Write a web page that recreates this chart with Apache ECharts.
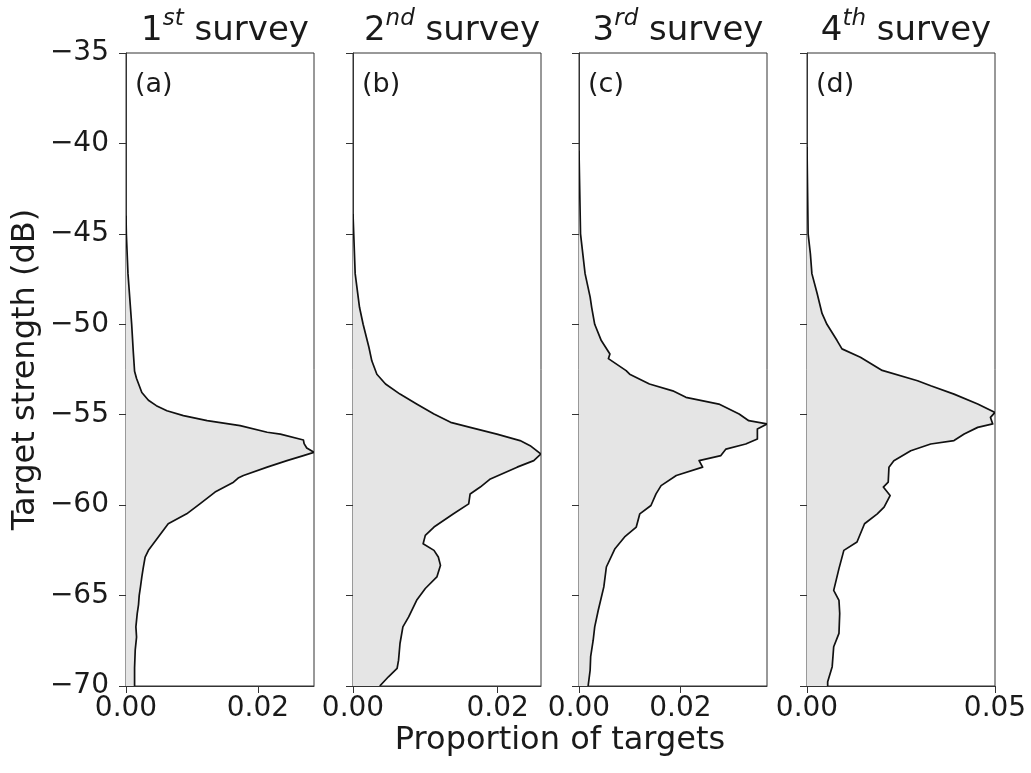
<!DOCTYPE html>
<html>
<head>
<meta charset="utf-8">
<script src="https://cdn.jsdelivr.net/npm/echarts@6/dist/echarts.min.js"></script>
<style>
  html, body { margin: 0; padding: 0; background: #fff; }
  #chart { width: 1031px; height: 773px; }
</style>
</head>
<body>
<div id="chart"></div>
<script>
// Target-strength distributions, one per survey: [TS (dB), proportion of targets]
const survey1 = [
  [-44.0, 0], [-45.0, 0.00005], [-47.2, 0.0003], [-50.0, 0.00086], [-51.5, 0.0011],
  [-52.6, 0.0013], [-53.0, 0.0016], [-53.77, 0.0024], [-54.2, 0.0034], [-54.5, 0.0046],
  [-54.78, 0.0062], [-55.05, 0.0087], [-55.33, 0.0123], [-55.6, 0.0173], [-55.97, 0.0214],
  [-56.07, 0.0234], [-56.4, 0.0269], [-56.6, 0.027], [-56.84, 0.0274], [-57.08, 0.0285],
  [-57.26, 0.0269], [-57.54, 0.0244], [-57.9, 0.0214], [-58.36, 0.0178], [-58.5, 0.017],
  [-58.73, 0.0163], [-59.28, 0.0135], [-59.93, 0.0112], [-60.48, 0.0092], [-61.03, 0.0064],
  [-61.76, 0.0049], [-62.5, 0.0034], [-62.87, 0.0029], [-63.5, 0.0026], [-63.97, 0.0024],
  [-64.5, 0.0022], [-65.0, 0.002], [-65.5, 0.0019], [-66.0, 0.0017], [-66.73, 0.0015],
  [-67.3, 0.0016], [-68.0, 0.0014], [-69.0, 0.0013], [-70.0, 0.0013]
];
const survey2 = [
  [-43.9, 0], [-45.0, 0.0001], [-47.2, 0.0003], [-49.06, 0.0009], [-50.0, 0.0014],
  [-51.27, 0.0022], [-52.02, 0.0026], [-52.76, 0.0033], [-53.3, 0.0045], [-53.86, 0.0065],
  [-54.41, 0.0088], [-54.96, 0.0112], [-55.42, 0.0135], [-55.7, 0.0162], [-56.07, 0.0199],
  [-56.43, 0.0231], [-56.71, 0.0245], [-57.17, 0.026], [-57.54, 0.025], [-57.9, 0.0227],
  [-58.55, 0.019], [-59.0, 0.0176], [-59.38, 0.0162], [-59.93, 0.016], [-60.48, 0.0139],
  [-61.21, 0.0112], [-61.67, 0.01], [-62.13, 0.0097], [-62.5, 0.0112], [-62.87, 0.0118],
  [-63.33, 0.0121], [-63.97, 0.0116], [-64.61, 0.01], [-65.26, 0.0088], [-66.18, 0.0077],
  [-66.73, 0.0069], [-67.65, 0.0065], [-68.57, 0.0063], [-69.03, 0.0061], [-69.49, 0.0049],
  [-70.0, 0.0037]
];
const survey3 = [
  [-40.4, 0], [-45.0, 0.0003], [-47.2, 0.0012], [-48.5, 0.0022], [-49.06, 0.0025],
  [-50.0, 0.0031], [-50.9, 0.0044], [-51.64, 0.0061], [-51.9, 0.0058], [-52.56, 0.0093],
  [-52.76, 0.01], [-53.3, 0.0139], [-53.68, 0.0185], [-54.04, 0.0211], [-54.41, 0.0276],
  [-54.96, 0.0316], [-55.33, 0.0335], [-55.51, 0.0371], [-55.79, 0.0352], [-56.34, 0.0352],
  [-56.62, 0.0329], [-56.9, 0.029], [-57.26, 0.028], [-57.54, 0.0237], [-57.9, 0.0244],
  [-58.36, 0.0192], [-58.92, 0.0162], [-59.38, 0.0152], [-60.02, 0.0142], [-60.48, 0.012],
  [-61.21, 0.0113], [-61.76, 0.009], [-62.41, 0.0071], [-63.42, 0.0054], [-64.52, 0.0049],
  [-65.81, 0.0038], [-66.73, 0.0031], [-67.47, 0.0028], [-68.38, 0.0023], [-69.12, 0.0022],
  [-70.0, 0.0018]
];
const survey4 = [
  [-40.2, 0], [-45.0, 0.0003], [-46.1, 0.0009], [-47.2, 0.0013], [-48.3, 0.0027],
  [-49.4, 0.004], [-50.0, 0.0053], [-50.9, 0.008], [-51.36, 0.0093], [-51.82, 0.0142],
  [-52.55, 0.02], [-53.12, 0.0294], [-53.4, 0.0329], [-53.86, 0.0391], [-54.41, 0.0454],
  [-54.87, 0.05], [-55.15, 0.0488], [-55.51, 0.0494], [-55.7, 0.0454], [-56.07, 0.0418],
  [-56.43, 0.0391], [-56.62, 0.0329], [-56.99, 0.0276], [-57.54, 0.0231], [-57.9, 0.0218],
  [-58.73, 0.0216], [-59.0, 0.0203], [-59.47, 0.0221], [-60.11, 0.0205], [-60.48, 0.0187],
  [-61.03, 0.0153], [-62.04, 0.0133], [-62.5, 0.0098], [-63.51, 0.0085], [-64.71, 0.0071],
  [-65.26, 0.0085], [-65.99, 0.0087], [-67.09, 0.0085], [-67.83, 0.0071], [-68.93, 0.0067],
  [-69.76, 0.0055], [-70.0, 0.0055]
];

const surveys = [survey1, survey2, survey3, survey4];
const ordinals = [['1', 'st'], ['2', 'nd'], ['3', 'rd'], ['4', 'th']];
const panelTags = ['(a)', '(b)', '(c)', '(d)'];
const xMax = [0.0285, 0.026, 0.0371, 0.05];
const xTicks = [[0, 0.02], [0, 0.02], [0, 0.02], [0, 0.05]];
const yTicks = [-70, -65, -60, -55, -50, -45, -40, -35];

const FONT = 'DejaVu Sans';
const INK = '#1a1a1a';
const SPINE = '#333';
const panelLefts = [126, 353, 579, 807];
const panelW = 188, panelTop = 53, panelH = 633;

const fmtMinus = v => String(v).replace('-', '\u2212');

const grids = [], xAxes = [], yAxes = [], seriesList = [], titles = [], graphics = [];
surveys.forEach((pts, i) => {
  grids.push({
    left: panelLefts[i], top: panelTop, width: panelW, height: panelH,
    show: true, borderColor: SPINE, borderWidth: 1, backgroundColor: 'transparent'
  });
  xAxes.push({
    type: 'value', gridIndex: i, min: 0, max: xMax[i],
    axisLine: { show: true, onZero: false, lineStyle: { color: SPINE, width: 1 } },
    axisTick: { show: true, length: 7, customValues: xTicks[i], lineStyle: { color: SPINE } },
    axisLabel: {
      customValues: xTicks[i], margin: 9, color: INK, fontFamily: FONT, fontSize: 28,
      formatter: v => v.toFixed(2)
    },
    splitLine: { show: false }
  });
  yAxes.push({
    type: 'value', gridIndex: i, min: -70, max: -35, interval: 5,
    axisLine: { show: true, onZero: false, lineStyle: { color: SPINE, width: 1 } },
    axisTick: { show: true, length: 7, customValues: yTicks, lineStyle: { color: SPINE } },
    axisLabel: {
      show: i === 0, customValues: yTicks, margin: 17, color: INK, fontFamily: FONT, fontSize: 28,
      formatter: v => fmtMinus(v)
    },
    splitLine: { show: false },
    name: i === 0 ? 'Target strength (dB)' : '',
    nameLocation: 'middle', nameGap: 84, nameRotate: 90,
    nameTextStyle: { color: INK, fontFamily: FONT, fontSize: 32 }
  });
  // Filled distribution: area between the TS axis (proportion 0) and the curve
  seriesList.push({
    type: 'custom', xAxisIndex: i, yAxisIndex: i, clip: true,
    data: pts.map(p => [p[1], p[0]]),
    renderItem: (params, api) => {
      if (params.dataIndex !== 0) return null;
      const line = pts.map(p => api.coord([p[1], p[0]]));
      const first = pts[0], last = pts[pts.length - 1];
      const area = [api.coord([0, first[0]])].concat(line, [api.coord([0, last[0]])]);
      return {
        type: 'group',
        children: [
          { type: 'polygon', shape: { points: area }, style: { fill: '#e5e5e5', stroke: null } },
          { type: 'polyline', shape: { points: line },
            style: { fill: null, stroke: '#111', lineWidth: 1.7, lineJoin: 'round' } }
        ]
      };
    }
  });
  titles.push({
    text: '{n|' + ordinals[i][0] + '}{s|' + ordinals[i][1] + '}{n| survey}',
    left: panelLefts[i] + panelW / 2, top: 3, textAlign: 'center',
    textStyle: {
      fontWeight: 'normal',
      rich: {
        n: { fontFamily: FONT, fontSize: 34, fontWeight: 'normal', color: INK, lineHeight: 40, verticalAlign: 'bottom' },
        s: { fontFamily: FONT, fontSize: 23, fontWeight: 'normal', fontStyle: 'italic', color: INK, lineHeight: 24, verticalAlign: 'top' }
      }
    }
  });
  graphics.push({
    type: 'text', left: panelLefts[i] + 9, top: 71,
    style: { text: panelTags[i], fontFamily: FONT, fontSize: 27, fill: INK }
  });
});

graphics.push({
  type: 'text', x: 560, y: 725,
  style: { text: 'Proportion of targets', textAlign: 'center', fontFamily: FONT, fontSize: 32, fill: INK }
});

const chart = echarts.init(document.getElementById('chart'), null, { renderer: 'canvas' });
chart.setOption({
  animation: false,
  backgroundColor: '#fff',
  title: titles,
  grid: grids,
  xAxis: xAxes,
  yAxis: yAxes,
  series: seriesList,
  graphic: graphics
});
</script>
</body>
</html>
